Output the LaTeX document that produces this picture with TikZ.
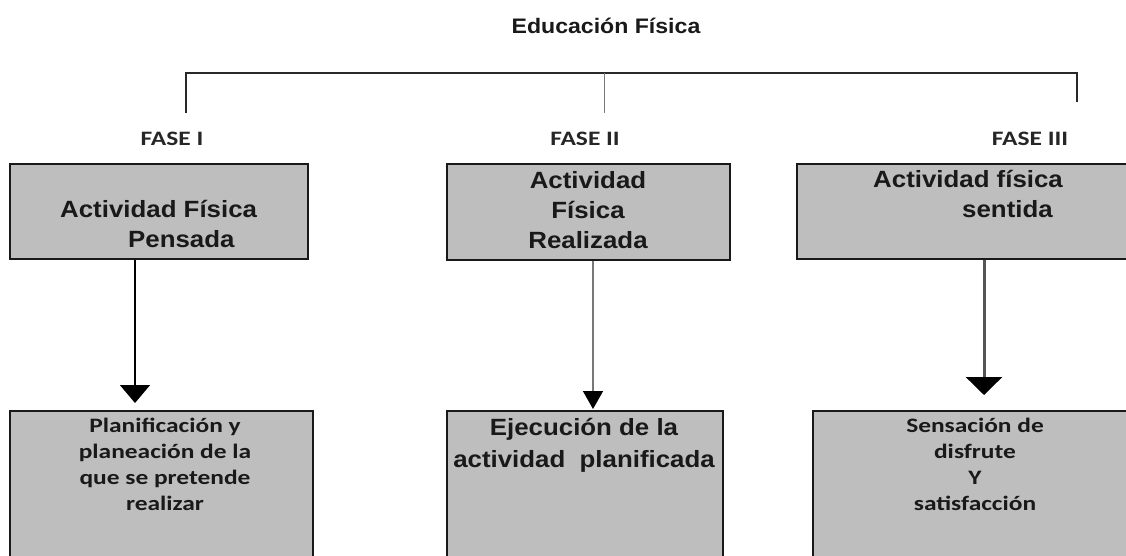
\documentclass[tikz,border=0pt]{standalone}
\usepackage{fontspec}
\usetikzlibrary{arrows.meta}
\newfontfamily\arialf[FakeStretch=1.1]{Liberation Sans}
\newfontfamily\calf[FakeStretch=1.24]{Carlito}
\definecolor{boxgray}{RGB}{190,190,190}
\definecolor{brk}{RGB}{40,40,40}
\definecolor{midgray}{RGB}{120,120,120}
\definecolor{darkg}{RGB}{85,85,85}
\begin{document}
\begin{tikzpicture}[x=1pt,y=-1pt,
  box/.style={draw=black!90, line width=1.6pt, fill=boxgray, inner sep=0pt, anchor=north west},
  toptxt/.style={font=\arialf\bfseries\fontsize{23.5}{30}\selectfont, inner sep=0pt, text=black!90},
  bottxtA/.style={font=\arialf\bfseries\fontsize{23.5}{32}\selectfont, inner sep=0pt, text=black!90},
  bottxtC/.style={font=\calf\bfseries\fontsize{20.5}{25.7}\selectfont, inner sep=0pt, text=black!90},
  fase/.style={font=\calf\bfseries\fontsize{20.5}{24}\selectfont, inner sep=0pt, anchor=base, text=black!85},
  arrA/.style={draw=black, line width=1.6pt, -{Triangle[width=30pt,length=18pt]}},
  arrB/.style={draw=midgray, line width=1.5pt, -{Triangle[width=20pt,length=18pt,black]}},
  arrC/.style={draw=darkg, line width=3pt, -{Triangle[width=36pt,length=18pt,black]}},
  brkline/.style={draw=brk, line width=1.5pt},
  midline/.style={draw=midgray, line width=1pt}
]
\clip (0,0) rectangle (1126,555);
\fill[white] (0,0) rectangle (1126,555);

% title
\node[font=\arialf\bfseries\fontsize{21}{24}\selectfont, inner sep=0pt, anchor=base, text=black!90] (title) at (606,33) {Educación Física};

% bracket
\coordinate (lt) at (186,73);
\coordinate (rt) at (1077,73);
\coordinate (ct) at (604,73);
\coordinate (lb) at (186,113);
\coordinate (cb) at (604,113);
\coordinate (rb) at (1077,102);
\draw[brkline] (lb) -- (lt) -- (rt) -- (rb);
\draw[midline] (ct) -- (cb);

% phase labels
\node[fase] (f1) at (172,145) {FASE I};
\node[fase] (f2) at (585,145) {FASE II};
\node[fase] (f3) at (1030,145) {FASE III};

% top boxes
\node[box, minimum width=298pt, minimum height=95pt] (b1) at (9,163) {};
\node[box, minimum width=283pt, minimum height=96pt] (b2) at (446,163) {};
\node[box, minimum width=336pt, minimum height=95pt] (b3) at (796,163) {};

\node[toptxt, anchor=base west, align=left] (t1) at (60,247) {Actividad Física\\\hspace*{68pt}Pensada};
\node[toptxt, anchor=base, align=center] (t2) at (588,248) {Actividad\\Física\\Realizada};
\node[toptxt, anchor=base west, align=left] (t3) at (873,217) {Actividad física\\\hspace*{89pt}sentida};

% bottom boxes
\node[box, minimum width=303pt, minimum height=160pt] (b4) at (9,410) {};
\node[box, minimum width=276pt, minimum height=160pt] (b5) at (446,410) {};
\node[box, minimum width=320pt, minimum height=160pt] (b6) at (812,410) {};

\node[bottxtC, anchor=base, align=center] (t4) at (165,510) {Planificación y\\planeación de la\\que se pretende\\realizar};
\node[bottxtA, anchor=base, align=center] (t5) at (584,467) {Ejecución de la\\actividad \ planificada};
\node[bottxtC, anchor=base, align=center] (t6) at (975,510) {Sensación de\\disfrute\\Y\\satisfacción};

% arrows
\coordinate (p1) at (135,403);
\coordinate (p2) at (593,409);
\coordinate (p3) at (984,395);
\draw[arrA] (b1.south -| p1) -- (p1);
\draw[arrB] (b2.south -| p2) -- (p2);
\draw[arrC] (b3.south -| p3) -- (p3);
\end{tikzpicture}
\end{document}
